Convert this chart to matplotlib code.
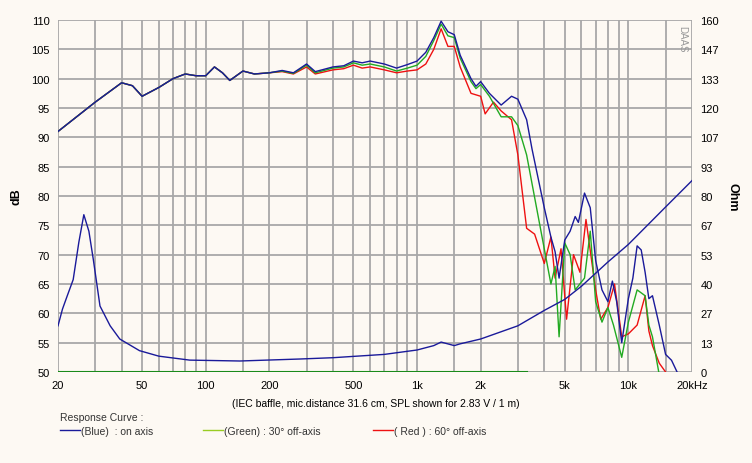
import numpy as np
import matplotlib.pyplot as plt

plt.rcParams['font.family'] = ['Liberation Sans Narrow', 'Liberation Sans', 'DejaVu Sans']

# on-axis SPL (blue)
f_blue = [20, 30, 40, 45, 50, 60, 70, 80, 90, 100, 110, 120, 130, 150, 170, 200, 230, 260, 300, 330,
          400, 450, 500, 550, 600, 700, 800, 900, 1000, 1100, 1200, 1300, 1400, 1500, 1600, 1800,
          1900, 2000, 2200, 2500, 2800, 3000, 3300, 3500, 4000, 4300, 4500, 4700, 5000, 5300, 5600,
          5800, 6200, 6600, 7000, 7500, 8000, 8400, 8800, 9300, 10000, 10500, 11000, 11500, 12000,
          12500, 13000, 14000, 15000, 16000, 17000]
db_blue = [91, 96, 99.3, 98.8, 97, 98.5, 100, 100.8, 100.5, 100.5, 102, 101, 99.7, 101.3, 100.8, 101,
           101.4, 101.0, 102.5, 101.2, 102, 102.2, 103, 102.7, 103, 102.5, 101.8, 102.4, 103, 104.5,
           107, 109.8, 108, 107.5, 104, 100, 98.7, 99.5, 97.5, 95.5, 97, 96.5, 93, 88, 78, 73, 70.5,
           66, 72.5, 74, 76.5, 75.5, 80.5, 78, 69, 64, 62, 65.5, 62, 55, 62.5, 66, 71.5, 70.8, 67,
           62.5, 63, 58, 53, 52, 50]

# 30 deg off-axis (green)
f_green = [20, 30, 40, 45, 50, 60, 70, 80, 90, 100, 110, 120, 130, 150, 170, 200, 230, 260, 300, 330,
           400, 450, 500, 550, 600, 700, 800, 900, 1000, 1100, 1200, 1300, 1400, 1500, 1600, 1800,
           1900, 2000, 2200, 2500, 2800, 3000, 3300, 4000, 4300, 4500, 4700, 5000, 5300, 5600, 6200,
           6600, 7000, 7500, 8000, 8500, 9300, 10000, 11000, 12000, 12500, 13000, 14000]
db_green = [91, 96, 99.3, 98.8, 97, 98.5, 100, 100.8, 100.5, 100.5, 102, 101, 99.7, 101.3, 100.8, 101,
            101.3, 100.9, 102.3, 101.0, 101.8, 102.0, 102.7, 102.3, 102.5, 102.0, 101.3, 101.8, 102.3,
            103.8, 106.5, 109.3, 107.3, 107, 103.5, 99.5, 98.3, 99, 97, 93.5, 93.5, 92, 87, 71, 65,
            68, 56, 72, 70, 64, 66, 74, 62, 58.5, 61, 58, 52.5, 58.5, 64, 63, 58, 56, 49.5]

# 60 deg off-axis (red)
f_red = [20, 30, 40, 45, 50, 60, 70, 80, 90, 100, 110, 120, 130, 150, 170, 200, 230, 260, 300, 330,
         400, 450, 500, 550, 600, 700, 800, 900, 1000, 1100, 1200, 1300, 1400, 1500, 1600, 1800,
         2000, 2100, 2300, 2500, 2800, 3000, 3300, 3600, 4000, 4300, 4500, 4800, 5100, 5500, 5900,
         6300, 7000, 7400, 8000, 8600, 9300, 10000, 11000, 12000, 12500, 13000, 14000, 15000]
db_red = [91, 96, 99.3, 98.8, 97, 98.5, 100, 100.8, 100.5, 100.5, 102, 101, 99.7, 101.3, 100.8, 101,
          101.2, 100.8, 102.0, 100.8, 101.5, 101.7, 102.3, 101.8, 102, 101.5, 101, 101.3, 101.5,
          102.5, 105, 108.5, 105.5, 105.5, 102, 97.5, 97, 94, 96, 94.5, 93, 87, 74.5, 73.5, 68.5,
          73, 66, 71, 59, 70, 67, 76, 64, 59, 61, 65, 56, 56.5, 58, 63, 57, 54.5, 51.5, 50]

# impedance (Ohm)
f_imp = [20, 21, 22, 23.6, 25.1, 26.5, 28, 29.4, 31.6, 35.3, 39.2, 48.6, 60, 84, 145, 278, 400,
         700, 1000, 1200, 1300, 1500, 1600, 2000, 3000, 4000, 5000, 6000, 8000, 10000, 15000, 20000]
ohm = [21, 28.6, 34, 42, 59, 71.5, 64, 51, 30, 21, 15, 9.7, 7.2, 5.4, 5.0, 5.9, 6.5,
       8, 10, 12, 13.6, 12, 12.8, 15, 21, 28, 33, 39, 50, 58, 75, 87]

grid_f = [20, 30, 40, 50, 60, 70, 80, 90, 100, 150, 200, 300, 400, 500, 600, 700, 800, 900, 1000,
          1500, 2000, 3000, 4000, 5000, 6000, 7000, 8000, 9000, 10000, 15000, 20000]
xt = [20, 50, 100, 200, 500, 1000, 2000, 5000, 10000, 20000]
xtl = ['20', '50', '100', '200', '500', '1k', '2k', '5k', '10k', '20kHz']
rt = [0, 13, 27, 40, 53, 67, 80, 93, 107, 120, 133, 147, 160]

bg = '#fdf9f3'
fig = plt.figure(figsize=(7.52, 4.64), dpi=100, facecolor=bg)
ax = fig.add_axes([58/752, 91/464, 634/752, 352/464], facecolor=bg)
ax.set_xscale('log')
ax.set_xlim(20, 20000)
ax.set_ylim(50, 110)
for g in grid_f:
    ax.axvline(g, color='#a8a8a8', lw=1.3, zorder=0)
for y in range(50, 111, 5):
    ax.axhline(y, color='#a8a8a8', lw=1.3, zorder=0)

ax2 = ax.twinx()
ax2.set_ylim(0, 160)
ax2.plot(f_imp, ohm, color='#1a1a9a', lw=1)

ax.plot([20, 3300], [50, 50], color='#1a8a1a', lw=1.5)
ax.plot(f_red, db_red, color='#ee1111', lw=1)
ax.plot(f_green, db_green, color='#22aa22', lw=1)
ax.plot(f_blue, db_blue, color='#1a1a9a', lw=1)

ax.set_xticks(xt)
ax.set_xticklabels(xtl)
ax.xaxis.set_minor_locator(plt.NullLocator())
ax.set_yticks(range(50, 111, 5))
ax2.set_yticks(rt)
for a in (ax, ax2):
    a.tick_params(length=0, labelsize=8, pad=6)
    for s in a.spines.values():
        s.set_visible(False)
ax.set_ylabel('dB', fontsize=9, fontweight='bold', labelpad=6)
ax2.set_ylabel('Ohm', fontsize=9, fontweight='bold', rotation=270, labelpad=14)
ax.text(0.985, 0.985, 'DAAS', transform=ax.transAxes, rotation=270, fontsize=7,
        color='#999999', ha='center', va='top')

fig.text(0.5, 0.122, '(IEC baffle, mic.distance 31.6 cm, SPL shown for 2.83 V / 1 m)',
         ha='center', fontsize=7.5)
fig.text(60/752, 0.092, 'Response Curve :', fontsize=7.5, color='#333333')
items = [(60, '#1a1a9a', '(Blue)  : on axis'), (203, '#99cc22', '(Green) : 30° off-axis'),
         (373, '#ee1111', '( Red ) : 60° off-axis')]
for x0, c, t in items:
    fig.add_artist(plt.Line2D([x0/752, (x0+20)/752], [0.072, 0.072], color=c, lw=1))
    fig.text((x0+21)/752, 0.062, t, fontsize=7.5, color='#333333')

fig.savefig('out.png', dpi=100, facecolor=bg)
